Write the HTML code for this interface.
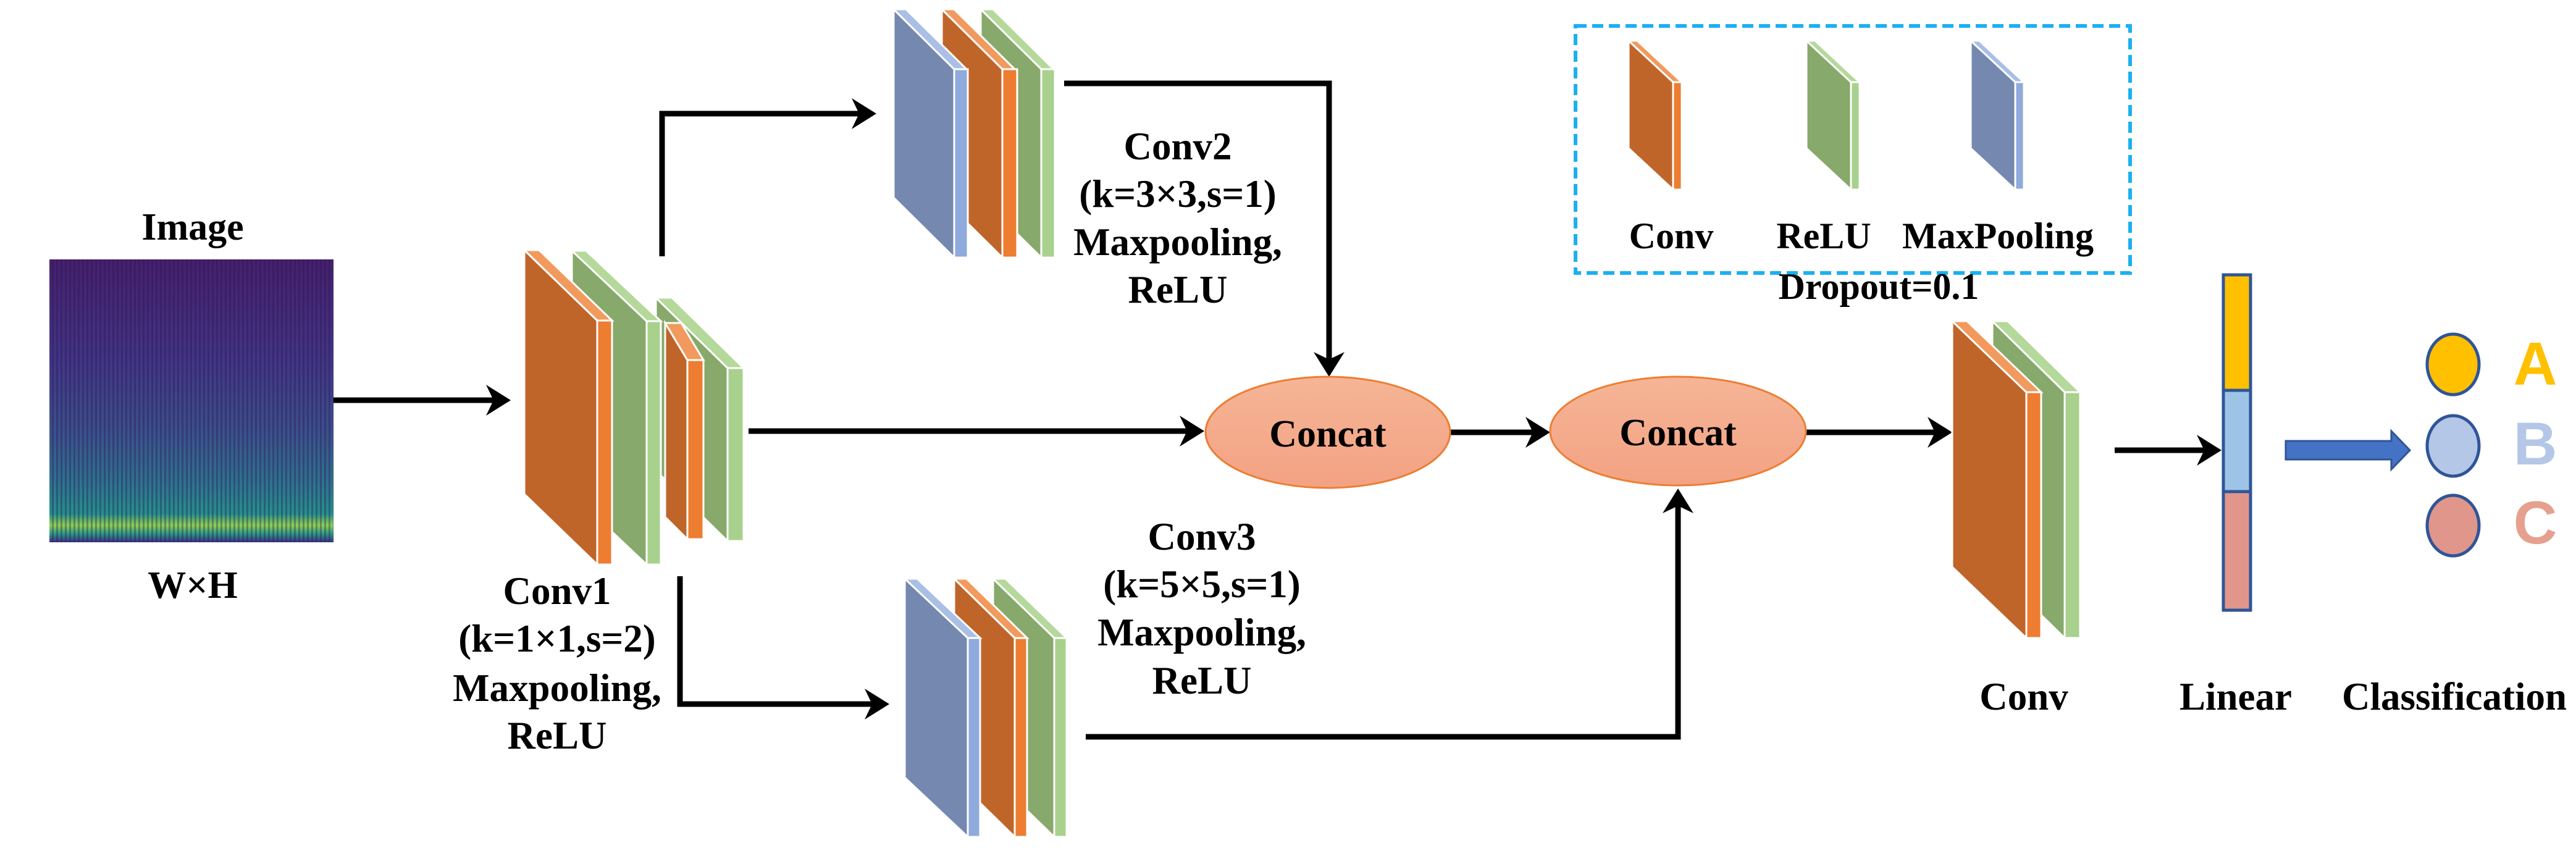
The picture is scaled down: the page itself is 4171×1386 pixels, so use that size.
<!DOCTYPE html>
<html><head><meta charset="utf-8"><style>
html,body{margin:0;padding:0;background:#fff}
svg{display:block}
.serif{font-family:"Liberation Serif","Times New Roman",serif;font-weight:bold}
.sans{font-family:"Liberation Sans",Arial,sans-serif;font-weight:bold}
</style></head><body>
<svg width="4171" height="1386" viewBox="0 0 4171 1386" xmlns="http://www.w3.org/2000/svg">
<defs>
<linearGradient id="spec" x1="0" y1="0" x2="0" y2="1">
<stop offset="0" stop-color="#45206c"/>
<stop offset="0.35" stop-color="#413584"/>
<stop offset="0.6" stop-color="#3b4f8b"/>
<stop offset="0.78" stop-color="#2f6f8e"/>
<stop offset="0.9" stop-color="#25908b"/>
<stop offset="0.94" stop-color="#8fd14f"/>
<stop offset="0.97" stop-color="#2a9a86"/>
<stop offset="1" stop-color="#3b2f80"/>
</linearGradient>
<pattern id="stripes" width="7" height="10" patternUnits="userSpaceOnUse">
<rect x="0" y="0" width="3" height="10" fill="#2a1050" opacity="0.35"/>
</pattern>
<linearGradient id="ell" x1="0" y1="0" x2="0" y2="1">
<stop offset="0" stop-color="#f5b596"/>
<stop offset="1" stop-color="#f3a283"/>
</linearGradient>
</defs>

<rect x="80" y="420" width="460" height="458" fill="url(#spec)"/>
<rect x="80" y="420" width="460" height="458" fill="url(#stripes)"/>

<g stroke="#000" stroke-width="9" fill="none">
<line x1="540" y1="648" x2="815" y2="648"/>
<polyline points="1072,415 1072,184 1405,184"/>
<line x1="1212" y1="698" x2="1935" y2="698"/>
<polyline points="1101,933 1101,1140 1425,1140"/>
<polyline points="1723,135 2152,135 2152,595"/>
<line x1="2348" y1="700" x2="2495" y2="700"/>
<polyline points="1758,1193 2717,1193 2717,806"/>
<line x1="2925" y1="700" x2="3146" y2="700"/>
<line x1="3424" y1="729" x2="3582" y2="729"/>
</g>
<g fill="#000">
<polygon points="827,648 787,623 799,648 787,673"/>
<polygon points="1419,184 1379,159 1391,184 1379,209"/>
<polygon points="1950,698 1910,673 1922,698 1910,723"/>
<polygon points="1440,1140 1400,1115 1412,1140 1400,1165"/>
<polygon points="2152,610 2127,570 2152,582 2177,570"/>
<polygon points="2510,700 2470,675 2482,700 2470,725"/>
<polygon points="2717,791 2692,831 2717,819 2742,831"/>
<polygon points="3161,700 3121,675 3133,700 3121,725"/>
<polygon points="3597,729 3557,704 3569,729 3557,754"/>
</g>

<g stroke="#fff" stroke-width="3">
<polygon points="1062,482 1178,596 1178,876 1062,762" fill="#87A96B"/>
<polygon points="1062,482 1088,482 1204,596 1178,596" fill="#B5D89B"/>
<rect x="1178" y="596" width="26" height="280" fill="#A9D18E"/>
<polygon points="1077,523 1113,583 1113,873 1077,837" fill="#C0652A"/>
<polygon points="1077,523 1103,523 1139,583 1113,583" fill="#F29A5E"/>
<rect x="1113" y="583" width="26" height="290" fill="#ED7D31"/>
<polygon points="926,406 1047,520 1047,914 926,800" fill="#87A96B"/>
<polygon points="926,406 949,406 1070,520 1047,520" fill="#B5D89B"/>
<rect x="1047" y="520" width="23" height="394" fill="#A9D18E"/>
<polygon points="849,405 967,519 967,914 849,800" fill="#C0652A"/>
<polygon points="849,405 873,405 991,519 967,519" fill="#F29A5E"/>
<rect x="967" y="519" width="24" height="395" fill="#ED7D31"/>
</g>

<g stroke="#fff" stroke-width="3">
<polygon points="1588,15 1686,112 1686,417 1588,320" fill="#87A96B"/>
<polygon points="1588,15 1608,15 1706,112 1686,112" fill="#B5D89B"/>
<rect x="1686" y="112" width="22" height="305" fill="#A9D18E"/>
<polygon points="1525,15 1623,112 1623,417 1525,320" fill="#C0652A"/>
<polygon points="1525,15 1545,15 1643,112 1623,112" fill="#F29A5E"/>
<rect x="1623" y="112" width="24" height="305" fill="#ED7D31"/>
<polygon points="1447,15 1545,112 1545,417 1447,320" fill="#7588B0"/>
<polygon points="1447,15 1467,15 1565,112 1545,112" fill="#A9BFE6"/>
<rect x="1545" y="112" width="22" height="305" fill="#8FAADC"/>
</g>

<g stroke="#fff" stroke-width="3">
<polygon points="1608,937 1707,1033 1707,1355 1608,1259" fill="#87A96B"/>
<polygon points="1608,937 1628,937 1727,1033 1707,1033" fill="#B5D89B"/>
<rect x="1707" y="1033" width="20" height="322" fill="#A9D18E"/>
<polygon points="1545,937 1643,1033 1643,1355 1545,1259" fill="#C0652A"/>
<polygon points="1545,937 1565,937 1663,1033 1643,1033" fill="#F29A5E"/>
<rect x="1643" y="1033" width="20" height="322" fill="#ED7D31"/>
<polygon points="1465,937 1567,1033 1567,1355 1465,1259" fill="#7588B0"/>
<polygon points="1465,937 1485,937 1587,1033 1567,1033" fill="#A9BFE6"/>
<rect x="1567" y="1033" width="20" height="322" fill="#8FAADC"/>
</g>

<g stroke="#fff" stroke-width="3">
<polygon points="3226,520 3343,635 3343,1033 3226,918" fill="#87A96B"/>
<polygon points="3226,520 3251,520 3368,635 3343,635" fill="#B5D89B"/>
<rect x="3343" y="635" width="25" height="398" fill="#A9D18E"/>
<polygon points="3161,520 3281,635 3281,1033 3161,918" fill="#C0652A"/>
<polygon points="3161,520 3185,520 3305,635 3281,635" fill="#F29A5E"/>
<rect x="3281" y="635" width="24" height="398" fill="#ED7D31"/>
</g>

<rect x="2551" y="42" width="898" height="400" fill="none" stroke="#1CB0F0" stroke-width="6" stroke-dasharray="18,9"/>
<g stroke="#fff" stroke-width="3">
<polygon points="2637,66 2709,133 2709,307 2637,240" fill="#C0652A"/>
<polygon points="2637,66 2651,66 2723,133 2709,133" fill="#F29A5E"/>
<rect x="2709" y="133" width="14" height="174" fill="#ED7D31"/>
<polygon points="2925,66 2997,133 2997,307 2925,240" fill="#87A96B"/>
<polygon points="2925,66 2939,66 3011,133 2997,133" fill="#B5D89B"/>
<rect x="2997" y="133" width="14" height="174" fill="#A9D18E"/>
<polygon points="3191,66 3263,133 3263,307 3191,240" fill="#7588B0"/>
<polygon points="3191,66 3205,66 3277,133 3263,133" fill="#A9BFE6"/>
<rect x="3263" y="133" width="14" height="174" fill="#8FAADC"/>
</g>

<ellipse cx="2150" cy="700" rx="198" ry="90" fill="url(#ell)" stroke="#ED7D31" stroke-width="3"/>
<ellipse cx="2717" cy="698" rx="207" ry="88" fill="url(#ell)" stroke="#ED7D31" stroke-width="3"/>

<rect x="3600" y="445" width="44" height="187" fill="#FFC000"/>
<rect x="3600" y="632" width="44" height="164" fill="#9DC3E6"/>
<rect x="3600" y="796" width="44" height="192" fill="#E0968A"/>
<g stroke="#2F5597" stroke-width="5" fill="none">
<rect x="3600" y="445" width="44" height="543"/>
<line x1="3600" y1="632" x2="3644" y2="632"/>
<line x1="3600" y1="796" x2="3644" y2="796"/>
</g>

<polygon points="3701,714 3872,714 3872,698 3902,729 3872,760 3872,744 3701,744" fill="#4472C4" stroke="#2F5597" stroke-width="3"/>

<ellipse cx="3972" cy="590" rx="42" ry="49" fill="#FFC000" stroke="#2F5597" stroke-width="5"/>
<ellipse cx="3972" cy="722" rx="42" ry="49" fill="#B4C7E7" stroke="#2F5597" stroke-width="5"/>
<ellipse cx="3972" cy="851" rx="42" ry="49" fill="#E0968A" stroke="#2F5597" stroke-width="5"/>

<g class="serif" font-family="Liberation Serif, Times New Roman, serif" font-weight="bold" fill="#000" text-anchor="middle" font-size="63">
<text x="312" y="388" font-size="62">Image</text>
<text x="312" y="968" font-size="62">W×H</text>
<text x="2706" y="402" font-size="60">Conv</text>
<text x="2953" y="402" font-size="60">ReLU</text>
<text x="3235" y="402" font-size="60">MaxPooling</text>
<text x="3042" y="484" font-size="60">Dropout=0.1</text>
<text x="2150" y="723" font-size="62">Concat</text>
<text x="2717" y="721" font-size="62">Concat</text>
<text x="902" y="978">Conv1</text>
<text x="902" y="1055">(k=1×1,s=2)</text>
<text x="902" y="1135">Maxpooling,</text>
<text x="902" y="1212">ReLU</text>
<text x="1907" y="258">Conv2</text>
<text x="1907" y="335">(k=3×3,s=1)</text>
<text x="1907" y="413">Maxpooling,</text>
<text x="1907" y="490">ReLU</text>
<text x="1946" y="890">Conv3</text>
<text x="1946" y="967">(k=5×5,s=1)</text>
<text x="1946" y="1045">Maxpooling,</text>
<text x="1946" y="1123">ReLU</text>
<text x="3277" y="1149">Conv</text>
<text x="3620" y="1149">Linear</text>
<text x="3974" y="1149">Classification</text>
</g>
<g class="sans" font-family="Liberation Sans, Arial, sans-serif" font-weight="bold" font-size="98" text-anchor="middle">
<text x="4105" y="623" fill="#FFC000">A</text>
<text x="4105" y="752" fill="#B4C7E7">B</text>
<text x="4105" y="880" fill="#E6A08F">C</text>
</g>
</svg>
</body></html>
